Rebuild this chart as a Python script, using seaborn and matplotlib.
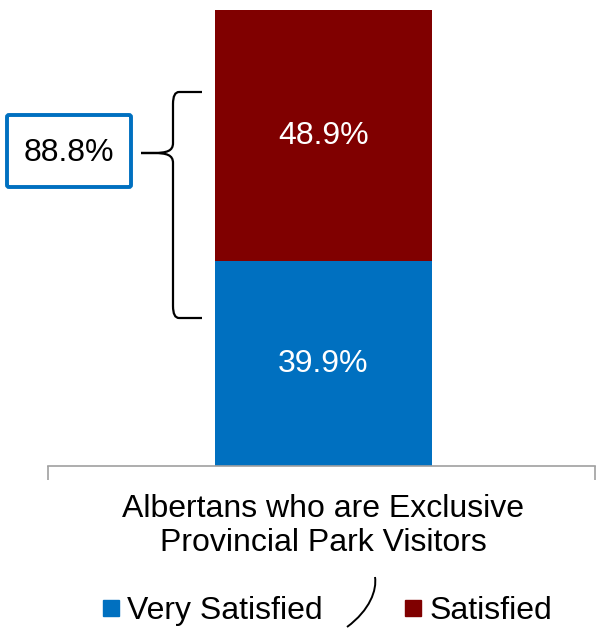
import matplotlib
matplotlib.use("Agg")
import matplotlib.pyplot as plt
import seaborn as sns
import pandas as pd
from matplotlib.path import Path
from matplotlib.patches import PathPatch, FancyBboxPatch
from matplotlib.lines import Line2D

categories = ["Albertans who are Exclusive\nProvincial Park Visitors"]
very_satisfied = [39.9]
satisfied = [48.9]
series_names = ["Very Satisfied", "Satisfied"]
total_label = "88.8%"

BLUE = "#0070C0"
RED = "#800000"
FS = 23

sns.set_theme(style="white")
plt.rcParams['font.family'] = ['Liberation Sans', 'DejaVu Sans']
plt.rcParams['text.color'] = 'black'

W, H = 596, 628
fig = plt.figure(figsize=(W / 100, H / 100), dpi=100)
ax = fig.add_axes([48 / W, (H - 466) / H, (595 - 48) / W, 456 / H])

totals = [v + s for v, s in zip(very_satisfied, satisfied)]
df = pd.DataFrame({"cat": categories, "very": very_satisfied, "sat": satisfied, "total": totals})

sns.barplot(data=df, x="cat", y="total", color=RED, width=0.397, saturation=1, ax=ax, linewidth=0)
sns.barplot(data=df, x="cat", y="very", color=BLUE, width=0.397, saturation=1, ax=ax, linewidth=0)

ax.set_xlim(-0.5036, 0.4964)
ax.set_ylim(0, totals[0])
ax.set_xlabel("")
ax.set_ylabel("")
ax.set_yticks([])
for s in ["top", "right", "left"]:
    ax.spines[s].set_visible(False)
ax.spines["bottom"].set_color("#A0A0A0")
ax.spines["bottom"].set_linewidth(1.2)
ax.set_xticks([0], labels=categories, linespacing=1.2)
ax.tick_params(axis="x", which="major", bottom=True, length=0, labelsize=FS, pad=20,
               labelcolor="black")
ax.set_xticks([-0.5036, 0.4964], minor=True)
ax.tick_params(axis="x", which="minor", bottom=True, length=10, width=1.2, color="#A0A0A0",
               direction="out")

# value labels
for i in range(len(categories)):
    ax.text(i, very_satisfied[i] / 2, f"{very_satisfied[i]:.1f}%", ha="center", va="center",
            color="white", fontsize=FS)
    ax.text(i, very_satisfied[i] + satisfied[i] / 2, f"{satisfied[i]:.1f}%", ha="center",
            va="center", color="white", fontsize=FS)

# overlay for annotations in pixel coordinates
ov = fig.add_axes([0, 0, 1, 1], zorder=5)
ov.set_xlim(0, W)
ov.set_ylim(H, 0)
ov.axis("off")
ov.patch.set_alpha(0)

# curly brace
top, bot, xr, xv, xt, ym = 92, 318, 202, 173, 141, 153
verts = [
    (xr, top), (xv + 6, top), (xv, top), (xv, top + 12),
    (xv, ym - 10),
    (xv, ym - 2), (xv - 6, ym), (xt + 12, ym),
    (xt, ym),
    (xt + 12, ym), (xv - 6, ym), (xv, ym + 2), (xv, ym + 10),
    (xv, bot - 12),
    (xv, bot), (xv + 6, bot), (xr, bot),
]
codes = [Path.MOVETO, Path.LINETO, Path.CURVE3, Path.CURVE3,
         Path.LINETO,
         Path.CURVE4, Path.CURVE4, Path.CURVE4,
         Path.LINETO,
         Path.LINETO, Path.CURVE4, Path.CURVE4, Path.CURVE4,
         Path.LINETO,
         Path.CURVE3, Path.CURVE3, Path.LINETO]
ov.add_patch(PathPatch(Path(verts, codes), fill=False, lw=1.6, color="black"))

# total box
ov.add_patch(FancyBboxPatch((7, 115), 124, 72, boxstyle="round,pad=0,rounding_size=2",
                            fill=True, facecolor="white", edgecolor=BLUE, lw=2.8))
ov.text(69, 153, total_label, ha="center", va="center", fontsize=FS, color="black")

# decorative arc between legend entries
arc = Path([(347, 627), (370, 610), (377, 590), (375, 577)],
           [Path.MOVETO, Path.CURVE4, Path.CURVE4, Path.CURVE4])
ov.add_patch(PathPatch(arc, fill=False, lw=1.4, color="black"))

# legend
handles = [Line2D([], [], marker="s", linestyle="", markersize=11, color=BLUE),
           Line2D([], [], marker="s", linestyle="", markersize=11, color=RED)]
fig.legend(handles, series_names, loc="center", bbox_to_anchor=(325 / W, 1 - 611 / H),
           ncol=2, frameon=False, fontsize=FS, handletextpad=0.12, columnspacing=2.4,
           handlelength=0.8, borderpad=0, borderaxespad=0, labelcolor="black")

fig.savefig("out.png", dpi=100)
